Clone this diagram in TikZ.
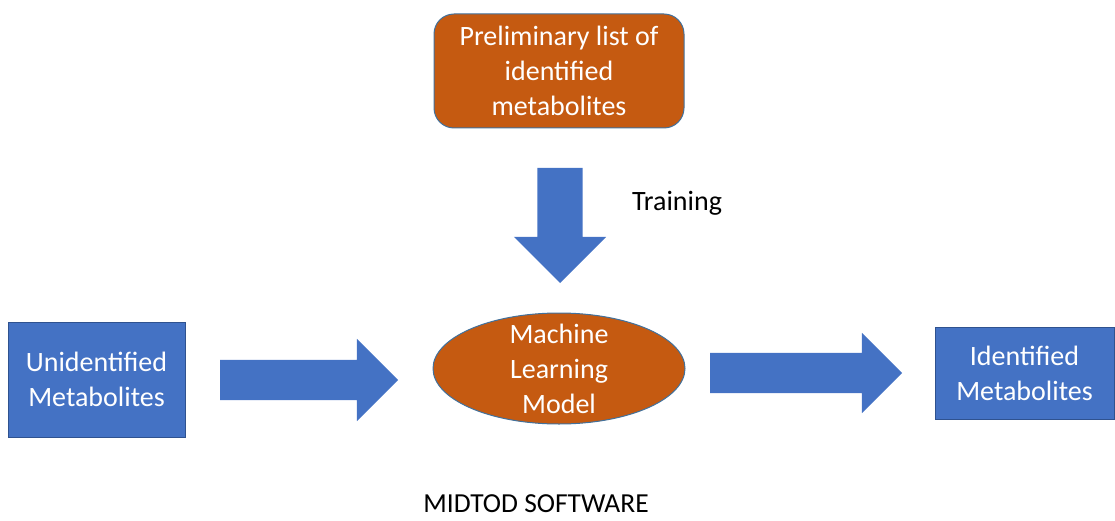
\documentclass[tikz,border=0pt]{standalone}
\usepackage{fontspec}
\setmainfont{Carlito}
\usepackage{xcolor}
\usetikzlibrary{shapes,positioning}
\definecolor{rust}{HTML}{C55A11}
\definecolor{rustedge}{HTML}{41719C}
\definecolor{steel}{HTML}{4472C4}
\definecolor{steeledge}{HTML}{2F528F}

\begin{document}
\begin{tikzpicture}[x=1pt,y=-1pt]

\tikzset{txt/.style={font=\fontsize{28}{35}\selectfont, align=center}}
\tikzset{datbox/.style={
  rectangle, txt,
  inner sep=0pt,
  text=white,
  draw=steeledge, fill=steel, line width=1pt
  }}
\tikzset{proc/.style={
  inner sep=0pt,
  draw=rustedge, fill=rust, line width=1pt
  }}
\tikzset{blockarrow/.style={
  single arrow, fill=steel,
  minimum width=0pt,
  outer sep=0pt, anchor=tail
  }}

\useasboundingbox (0,0) rectangle (1115,521);

\node[proc, rectangle, rounded corners=20pt, txt, text=white,
  minimum width=250pt, minimum height=114pt] (prelim) at (559,71)
  {Preliminary list of\\identified\\metabolites};
\node[blockarrow, shape border rotate=270, inner sep=22.5pt,
  single arrow head extend=23.5pt, minimum height=115pt] (trainarrow) at (560,168) {};
\node[txt] (training) at (677,203) {Training};

\node[datbox, minimum width=177pt, minimum height=115pt] (unident) at (96.5,379.5)
  {Unidentified\\Metabolites};
\node[blockarrow, inner sep=20pt,
  single arrow head extend=21pt, minimum height=178pt] (inarrow) at (220,380) {};

\node[proc, ellipse, minimum width=252pt, minimum height=111pt,
  label={[txt, text=white]center:Machine\\Learning\\Model}] (model) at (559,368.5) {};

\node[blockarrow, inner sep=20pt,
  single arrow head extend=20pt, minimum height=192pt] (outarrow) at (710,373) {};
\node[datbox, minimum width=179pt, minimum height=92pt] (ident) at (1024.5,373)
  {Identified\\Metabolites};

\node[font=\fontsize{27.5}{32}\selectfont, inner sep=0pt] (software) at (536,504) {MIDTOD SOFTWARE};
\end{tikzpicture}
\end{document}
